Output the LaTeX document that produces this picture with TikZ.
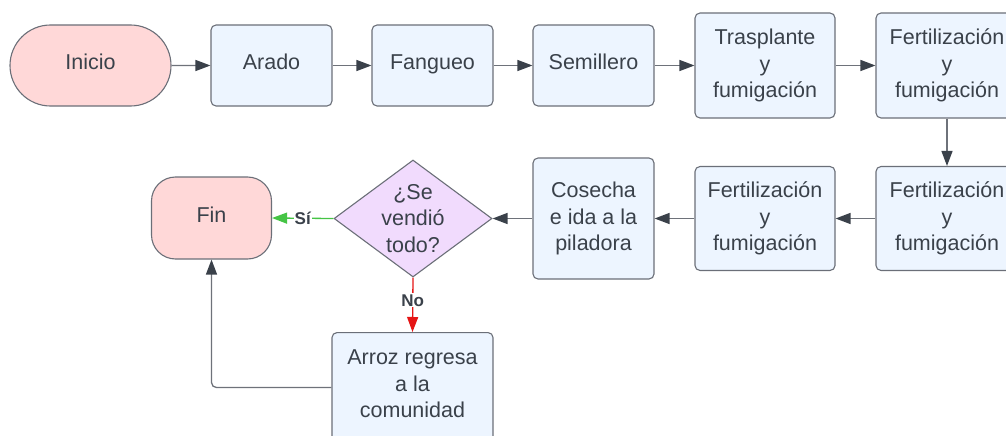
\documentclass[tikz,border=0pt]{standalone}
\usepackage{fontspec}
\setmainfont{Liberation Sans}
\usetikzlibrary{arrows.meta,shapes.geometric,shapes.misc}
\definecolor{boxfill}{HTML}{EDF5FF}
\definecolor{boxline}{HTML}{6B6F78}
\definecolor{txt}{HTML}{3A414A}
\definecolor{pinkfill}{HTML}{FFD8D8}
\definecolor{purpfill}{HTML}{F1DBFD}
\definecolor{yesgreen}{HTML}{45C445}
\definecolor{nored}{HTML}{E51515}
\definecolor{linegrey}{HTML}{6E727A}
\begin{document}
\begin{tikzpicture}[x=1pt,y=1pt,
  base/.style={draw=boxline,line width=1.1pt,text=txt,align=center,inner sep=0pt,
    font=\fontsize{21.5}{26.5}\selectfont},
  procbox/.style={base,fill=boxfill,rounded corners=5pt},
  termbox/.style={base,fill=pinkfill},
  oneline/.style={text height=15.5pt,text depth=6.5pt},
  plaintext/.style={text=txt,align=center,inner sep=0pt,font=\fontsize{21.5}{26.5}\selectfont},
  conn/.style={draw=linegrey,line width=1.3pt,
    -{Triangle[length=15pt,width=11pt,fill=txt,color=txt]}},
  lab/.style={font=\bfseries\fontsize{17}{20}\selectfont,text=txt,fill=white,inner sep=1pt}
]
\useasboundingbox (0,0) rectangle (1006,-436);
% top row
\node[termbox,oneline,rounded rectangle,minimum width=161pt,minimum height=81pt] (ini) at (90.5,-65.5) {Inicio};
\node[procbox,oneline,minimum width=121pt,minimum height=81pt] (ara) at (271.5,-65.5) {Arado};
\node[procbox,oneline,minimum width=121pt,minimum height=81pt] (fan) at (432.5,-65.5) {Fangueo};
\node[procbox,oneline,minimum width=121pt,minimum height=81pt] (sem) at (593.5,-65.5) {Semillero};
\node[procbox,minimum width=140pt,minimum height=105pt] (tra) at (765,-65.5) {Trasplante\\y\\fumigación};
\node[procbox,minimum width=142pt,minimum height=105pt] (fe1) at (947,-65.5) {Fertilización\\y\\fumigación};
% second row
\node[procbox,minimum width=142pt,minimum height=104pt] (fe2) at (947,-218.5) {Fertilización\\y\\fumigación};
\node[procbox,minimum width=140pt,minimum height=104pt] (fe3) at (765,-218.5) {Fertilización\\y\\fumigación};
\node[procbox,minimum width=121pt,minimum height=121pt] (cos) at (593.5,-218.5) {Cosecha\\e ida a la\\piladora};
\node[base,diamond,fill=purpfill,minimum width=158pt,minimum height=117pt] (dia) at (413,-218.5) {};
\node[plaintext] (diat) at (dia.center) {¿Se\\vendió\\todo?};
\node[termbox,oneline,rounded corners=24pt,minimum width=120pt,minimum height=82pt] (fin) at (211.5,-218) {Fin};
\node[procbox,anchor=north,minimum width=161pt,minimum height=110pt] (arr) at (412.5,-332) {};
\node[plaintext] (arrt) at ([yshift=3.5pt]arr.center) {Arroz regresa\\a la\\comunidad};
% connectors
\draw[conn] (ini) -- (ara);
\draw[conn] (ara) -- (fan);
\draw[conn] (fan) -- (sem);
\draw[conn] (sem) -- (tra);
\draw[conn] (tra) -- (fe1);
\draw[conn] (fe1) -- (fe2);
\draw[conn] (fe2) -- (fe3);
\draw[conn] (fe3) -- (cos);
\draw[conn] (cos) -- (dia);
\draw[conn,draw=yesgreen,-{Triangle[length=15pt,width=11pt,fill=yesgreen,color=yesgreen]}] (dia.west) -- node[lab,pos=0.5] {Sí} (fin.east);
\draw[conn,draw=nored,-{Triangle[length=15pt,width=11pt,fill=nored,color=nored]}] (dia.south) -- node[lab,pos=0.42] {No} (arr.north);
\draw[conn,rounded corners=5pt] (arr.west) -| (fin.south);
\end{tikzpicture}
\end{document}
